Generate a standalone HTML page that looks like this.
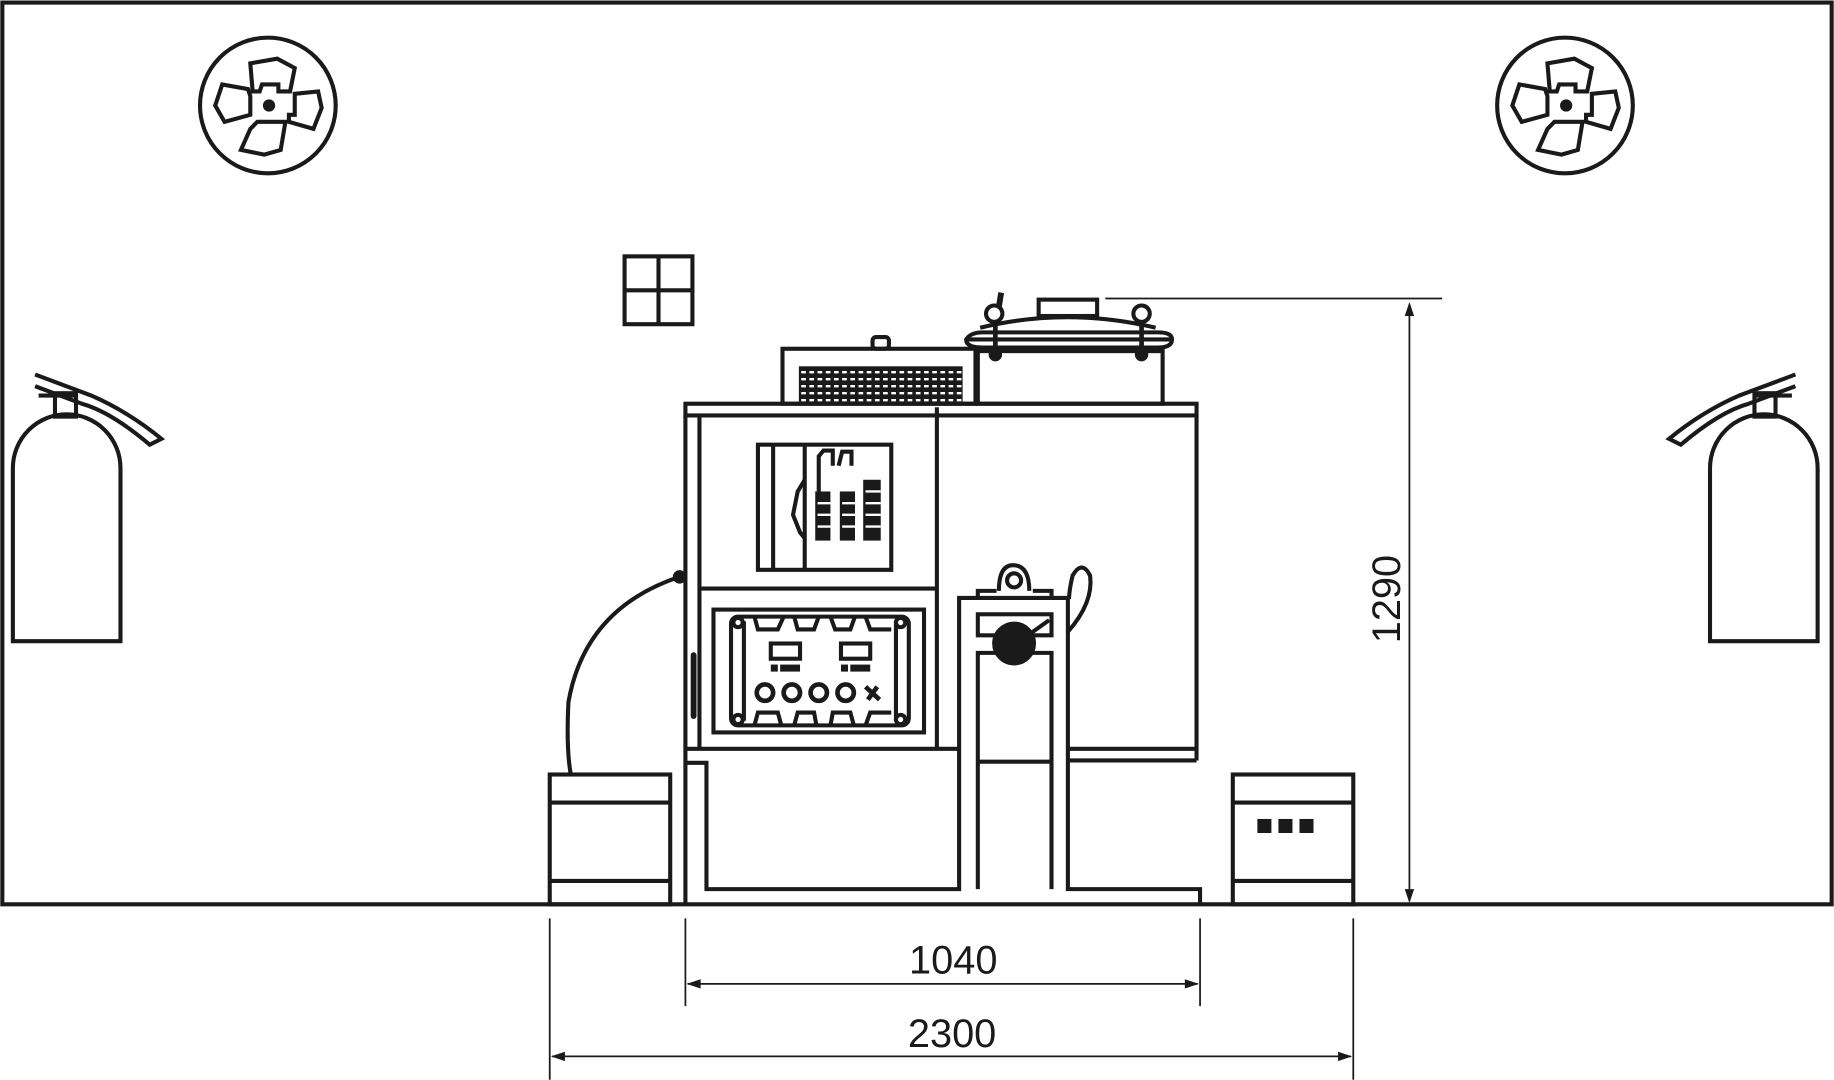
<!DOCTYPE html>
<html><head><meta charset="utf-8"><style>html,body{margin:0;padding:0;background:#fff}svg{display:block}</style></head>
<body>
<svg width="1834" height="1080" viewBox="0 0 1568 923" xmlns="http://www.w3.org/2000/svg" fill="none" stroke="#1a1a1a" stroke-width="3.5">
<rect x="0" y="0" width="1568" height="923" fill="#fff" stroke="none"/>
<path d="M2,773 V2 H1566 V773 Z"/>
<g id="fan">
<circle cx="229" cy="90" r="58"/>
<path d="M214,54 L237,50 L252,58 L248,78 L238,78 L238,72 L224,72 L222,78 L216,78 Z"/>
<path d="M252,80 L272,78 L275,92 L268,110 L247,104 L247,98 L252,98 Z"/>
<path d="M244,104 L240,128 L226,132 L206,128 L214,110 L220,104 Z"/>
<path d="M214,98 L192,104 L184,90 L190,72 L212,76 L214,82 Z"/>
<circle cx="230" cy="90" r="3.5" fill="#1a1a1a"/>
</g>
<use href="#fan" transform="translate(1109,0)"/>
<g id="ext">
<path d="M11,548 V400 A46,46 0 0 1 103,400 V548 Z"/>
<rect x="47" y="336" width="18" height="20"/>
<path d="M33,338 H65 M30,320 L78,338 Q110,352 138,375 L128,380 Q95,352 70,345 L30,330"/>
</g>
<use href="#ext" transform="translate(1565,0) scale(-1,1)"/>
<rect x="534" y="219" width="58" height="58"/><path d="M563,219 V277 M534,248 H592"/>
<rect x="669" y="298" width="165" height="47"/>
<rect x="746" y="288" width="14" height="10" rx="3"/>
<rect x="683" y="313" width="140" height="32" fill="#1a1a1a" stroke="none"/>
<g stroke="#fff" stroke-width="2" stroke-dasharray="4,3"><path d="M685,318 H822 M685,324 H822 M685,330 H822 M685,336 H822 M685,342 H822"/></g>
<rect x="836" y="300" width="158" height="45"/>
<path d="M826,290 Q830,284 840,284 H990 Q1002,284 1002,290 Q1002,297 990,297 H840 Q826,297 826,290 Z"/>
<path d="M826,290 H1002"/>
<path d="M838,280 Q912,262 988,280"/>
<rect x="888" y="256" width="50" height="14"/>
<path d="M945,255 H1233" stroke-width="1.5"/>
<circle cx="850" cy="268" r="7"/><circle cx="976" cy="268" r="7"/>
<path d="M856,250 L854,262" stroke-width="5"/>
<path d="M851,275 V302 M976,275 V302" stroke-width="4"/>
<circle cx="851" cy="303" r="4" fill="#1a1a1a"/><circle cx="976" cy="303" r="4" fill="#1a1a1a"/>
<rect x="586" y="345" width="437" height="10"/>
<path d="M586,355 V773 M1023,355 V650 M801,348 V640 M598,355 V640 M598,503 H801 M586,640 H820 M914,640 H1023 M914,650 H1023"/>
<rect x="648" y="380" width="114" height="107"/>
<path d="M661,380 V487 M688,380 V487"/>
<path d="M688,410 L682,420 L678,440 L684,455 L688,460" />
<path d="M700,440 V390 L704,385 H712 V398 M717,398 L720,386 H728 V398"/>
<g fill="#1a1a1a" stroke="none"><rect x="697" y="420" width="13" height="42"/><rect x="718" y="420" width="13" height="42"/><rect x="738" y="410" width="15" height="52"/></g>
<g stroke="#fff" stroke-width="2"><path d="M699,430 H710 M699,440 H710 M699,450 H710 M720,430 H731 M720,440 H731 M720,450 H731 M740,420 H753 M740,430 H753 M740,440 H753 M740,450 H753"/></g>
<rect x="610" y="521" width="180" height="105"/>
<rect x="625" y="527" width="152" height="93" rx="6"/>
<path d="M636,531 V616 M766,531 V616"/>
<g fill="#fff"><circle cx="631" cy="532" r="4"/><circle cx="770" cy="532" r="4"/><circle cx="631" cy="615" r="4"/><circle cx="770" cy="615" r="4"/></g>
<path d="M645,527 L648,538 H665 L670,527 M679,527 L682,538 H696 L700,527 M710,527 L714,538 H727 L731,527 M740,527 L744,538 H762"/>
<path d="M645,620 L648,609 H665 L668,620 M679,620 L682,609 H696 L698,620 M710,620 L712,609 H727 L730,620 M740,620 L744,609 H762"/>
<rect x="659" y="550" width="25" height="13"/><rect x="719" y="550" width="25" height="13"/>
<g fill="#1a1a1a" stroke="none"><rect x="659" y="568" width="6" height="6"/><rect x="667" y="568" width="17" height="6"/><rect x="719" y="568" width="6" height="6"/><rect x="727" y="568" width="17" height="6"/></g>
<circle cx="654" cy="592" r="7" stroke-width="4"/><circle cx="677" cy="592" r="7" stroke-width="4"/><circle cx="700" cy="592" r="7" stroke-width="4"/><circle cx="723" cy="592" r="7" stroke-width="4"/>
<path d="M740,587 L752,598 M750,587 L742,598" stroke-width="4"/>
<path d="M593,560 V612" stroke-width="5" stroke-linecap="round"/>
<path d="M586,652 H604 V760 H820 V511 H913 V760 H1026 V773"/>
<path d="M836,760 V558 H899 V760 M836,651 H899"/>
<rect x="836" y="525" width="63" height="18"/>
<path d="M836,511 V505 H852 M883,505 H899 V511"/>
<path d="M854,505 Q854,483 866,483 Q880,483 880,505"/>
<circle cx="867" cy="496" r="6"/>
<circle cx="867" cy="550" r="17" fill="#1a1a1a"/>
<path d="M876,545 L897,530"/>
<path d="M913,540 Q935,515 932,492 Q925,478 917,492 Q914,505 914,512"/>
<path d="M581,493 Q500,520 486,600 Q484,640 488,662"/>
<circle cx="581" cy="493" r="4" fill="#1a1a1a"/>
<rect x="470" y="662" width="103" height="111"/><path d="M470,686 H573 M470,753 H573"/>
<rect x="1054" y="662" width="103" height="111"/><path d="M1054,686 H1157 M1054,753 H1157"/>
<g fill="#1a1a1a" stroke="none"><rect x="1075" y="700" width="12" height="12"/><rect x="1093" y="700" width="12" height="12"/><rect x="1111" y="700" width="12" height="12"/></g>
<g stroke-width="1.5">
<path d="M1205,260 V770"/>
<path d="M470,785 V923 M1157,785 V923 M586,785 V860 M1026,785 V860"/>
<path d="M588,841 H1024 M472,903 H1155"/>
</g>
<g fill="#1a1a1a" stroke="none">
<path d="M1205,258 l-4,12 h8 Z M1205,772 l-4,-12 h8 Z"/>
<path d="M587,841 l12,-4 v8 Z M1025,841 l-12,-4 v8 Z"/>
<path d="M471,903 l12,-4 v8 Z M1156,903 l-12,-4 v8 Z"/>
</g>
<g fill="#1a1a1a" stroke="none" font-family="Liberation Sans, sans-serif" font-size="34" text-anchor="middle">
<text x="815" y="832">1040</text>
<text x="814" y="895">2300</text>
<text transform="translate(1197,512) rotate(-90)">1290</text>
</g>
</svg>
</body></html>
